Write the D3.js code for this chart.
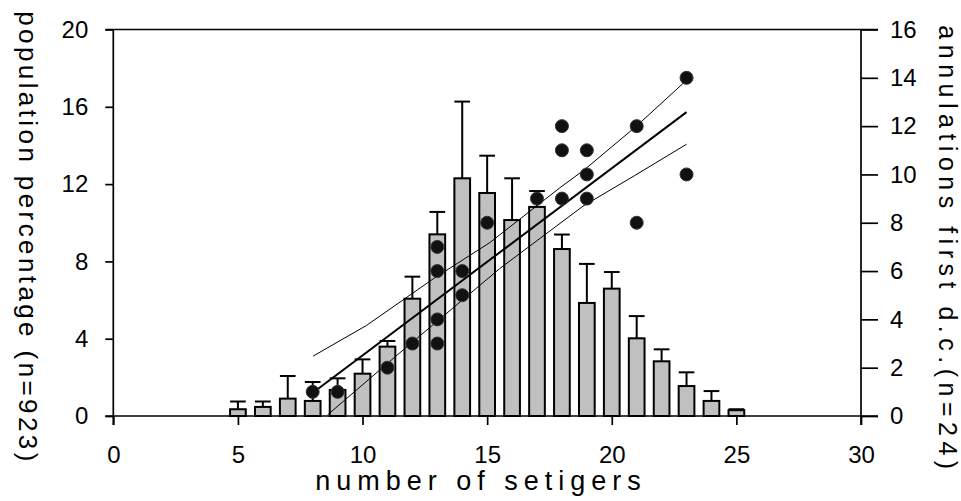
<!DOCTYPE html>
<html>
<head>
<meta charset="utf-8">
<script src="https://cdn.jsdelivr.net/npm/d3@7"></script>
<style>
  body { margin: 0; background: #fff; }
  svg text { font-family: "Liberation Sans", Arial, Helvetica, sans-serif; fill: #000; }
</style>
</head>
<body>
<svg id="chart" width="961" height="501"></svg>
<script>
// histogram : population percentage per number of setigers
const setigers = [5, 6, 7, 8, 9, 10, 11, 12, 13, 14, 15, 16, 17, 18, 19, 20, 21, 22, 23, 24, 25];
const percent  = [0.35, 0.47, 0.9, 0.78, 1.35, 2.19, 3.59, 6.07, 9.4, 12.3, 11.54, 10.14, 10.82, 8.64, 5.85, 6.59, 4.02, 2.83, 1.55, 0.78, 0.3];
const percentSd = [0.4, 0.28, 1.17, 0.98, 0.6, 0.74, 0.29, 1.14, 1.16, 3.97, 1.93, 2.16, 0.82, 0.75, 2.02, 0.86, 1.15, 0.62, 0.71, 0.51, 0.05];

// scatter : annulations of the first dorsal cirrus (right axis)
const annSetigers = [8, 9, 11, 12, 13, 13, 13, 13, 14, 14, 15, 17, 18, 18, 18, 19, 19, 19, 21, 21, 23, 23];
const annulations = [1, 1, 2, 3, 3, 4, 6, 7, 5, 6, 8, 9, 9, 11, 12, 9, 10, 11, 8, 12, 14, 10];

// regression line and its confidence limits
const fitX = [8.22, 23.0];
const fitY = [1.13, 12.58];
const upperX = [8.02, 10.16, 12.84, 15.11, 17.92, 18.92, 20.99, 23.0];
const upperY = [2.48, 3.75, 5.68, 7.18, 9.45, 10.21, 12.0, 13.9];
const lowerX = [8.6, 11.5, 15.5, 18.85, 20.93, 23.0];
const lowerY = [0.05, 2.62, 6.1, 8.69, 9.96, 11.25];

// tick labels
const xTicks = [0, 5, 10, 15, 20, 25, 30];
const leftTicks = [0, 4, 8, 12, 16, 20];
const rightTicks = [0, 2, 4, 6, 8, 10, 12, 14, 16];

const svg = d3.select("#chart");

const x = d3.scaleLinear().domain([0, 30]).range([113.3, 861]);
const yPct = d3.scaleLinear().domain([0, 20]).range([416, 29.5]);
const yAnn = d3.scaleLinear().domain([0, 16]).range([416, 29.5]);

const barW = x(0.63) - x(0);
const lineW = 1.7;

// frame lines
const frame = svg.append("g").attr("stroke", "#000").attr("stroke-width", lineW);
frame.append("line").attr("x1", x(0) - 8).attr("x2", x(30) + 17).attr("y1", yPct(0)).attr("y2", yPct(0));
frame.append("line").attr("x1", x(0) - 8).attr("x2", x(30) + 17).attr("y1", yPct(20)).attr("y2", yPct(20));
frame.append("line").attr("x1", x(0)).attr("x2", x(0)).attr("y1", yPct(20)).attr("y2", yPct(0) + 9);
frame.append("line").attr("x1", x(30)).attr("x2", x(30)).attr("y1", yPct(20)).attr("y2", yPct(0) + 9);

// axes (ticks + labels only, the frame is drawn above)
function styleAxis(g) {
    g.select(".domain").remove();
    g.selectAll(".tick line").attr("stroke", "#000").attr("stroke-width", lineW);
    g.selectAll(".tick text").style("font-size", "24px");
}

svg.append("g")
    .attr("transform", "translate(0," + yPct(0) + ")")
    .call(d3.axisBottom(x).tickValues(xTicks).tickSize(9).tickPadding(21))
    .call(styleAxis);

svg.append("g")
    .attr("transform", "translate(" + x(0) + ",0)")
    .call(d3.axisLeft(yPct).tickValues(leftTicks).tickSize(8).tickPadding(17))
    .call(styleAxis);

svg.append("g")
    .attr("transform", "translate(" + x(30) + ",0)")
    .call(d3.axisRight(yAnn).tickValues(rightTicks).tickSize(17).tickPadding(12))
    .call(styleAxis);

// bars
svg.append("g").selectAll("rect")
    .data(setigers)
    .enter().append("rect")
    .attr("x", (d) => x(d) - barW / 2)
    .attr("y", (d, i) => yPct(percent[i]))
    .attr("width", barW)
    .attr("height", (d, i) => yPct(0) - yPct(percent[i]))
    .attr("fill", "#c0c0c0")
    .attr("stroke", "#000")
    .attr("stroke-width", 2);

// error bars (upper half only)
const err = svg.append("g").attr("stroke", "#000").attr("stroke-width", 2);
err.selectAll("line.v")
    .data(setigers)
    .enter().append("line")
    .attr("class", "v")
    .attr("x1", (d) => x(d)).attr("x2", (d) => x(d))
    .attr("y1", (d, i) => yPct(percent[i]))
    .attr("y2", (d, i) => yPct(percent[i] + percentSd[i]));
err.selectAll("line.cap")
    .data(setigers)
    .enter().append("line")
    .attr("class", "cap")
    .attr("x1", (d) => x(d) - barW / 2).attr("x2", (d) => x(d) + barW / 2)
    .attr("y1", (d, i) => yPct(percent[i] + percentSd[i]))
    .attr("y2", (d, i) => yPct(percent[i] + percentSd[i]));

// regression + confidence limits
const line = d3.line().x((d) => x(d[0])).y((d) => yAnn(d[1]));
svg.append("path")
    .attr("d", line(d3.zip(fitX, fitY)))
    .attr("fill", "none").attr("stroke", "#000").attr("stroke-width", 2);
svg.append("path")
    .attr("d", line(d3.zip(upperX, upperY)))
    .attr("fill", "none").attr("stroke", "#000").attr("stroke-width", 1);
svg.append("path")
    .attr("d", line(d3.zip(lowerX, lowerY)))
    .attr("fill", "none").attr("stroke", "#000").attr("stroke-width", 1);

// points
svg.append("g").selectAll("circle")
    .data(annSetigers)
    .enter().append("circle")
    .attr("cx", (d) => x(d))
    .attr("cy", (d, i) => yAnn(annulations[i]))
    .attr("r", 6.5)
    .attr("fill", "#111")
    .attr("stroke", "#333")
    .attr("stroke-width", 1);

// axis titles
svg.append("text")
    .attr("x", 481).attr("y", 490)
    .attr("text-anchor", "middle")
    .style("font-size", "27px")
    .style("letter-spacing", "6px")
    .text("number of setigers");

svg.append("text")
    .attr("transform", "translate(19,238) rotate(90)")
    .attr("text-anchor", "middle")
    .style("font-size", "26px")
    .style("letter-spacing", "3.4px")
    .text("population percentage (n=923)");

svg.append("text")
    .attr("transform", "translate(939,250) rotate(90)")
    .attr("text-anchor", "middle")
    .style("font-size", "25px")
    .style("letter-spacing", "5.5px")
    .text("annulations first d.c.(n=24)");
</script>
</body>
</html>
